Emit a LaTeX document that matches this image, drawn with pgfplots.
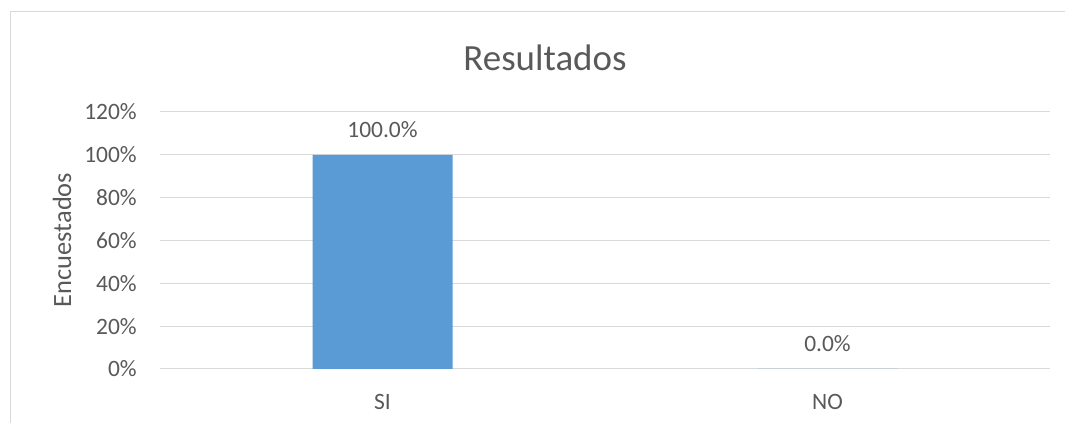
\documentclass[border=0pt]{standalone}
\usepackage{fontspec}
\setmainfont{Carlito}
\usepackage{pgfplots}
\pgfplotsset{compat=1.18}
\definecolor{barblue}{HTML}{5B9BD5}
\definecolor{gridgray}{HTML}{D9D9D9}
\definecolor{txtgray}{HTML}{595959}
\begin{document}
\begin{tikzpicture}
\useasboundingbox (0pt,0pt) rectangle (798.75pt,317.25pt);
\draw[gridgray, line width=0.75pt] (7.5pt,0pt) -- (7.5pt,308.25pt) -- (798.75pt,308.25pt);
\node[txtgray, font=\fontsize{27.7}{33}\selectfont, inner sep=0pt] at (408.75pt,273.75pt) {Resultados};
\begin{axis}[
  at={(120pt,40.5pt)}, anchor=south west,
  scale only axis, width=667.5pt, height=192.75pt,
  xmin=-0.5, xmax=1.5, ymin=0, ymax=120,
  xtick={0,1}, xticklabels={SI,NO},
  ytick={0,20,...,120},
  yticklabel={\pgfmathprintnumber{\tick}\%},
  /pgf/number format/assume math mode=true,
  ymajorgrids, grid style={gridgray, line width=0.75pt},
  axis line style={draw=none},
  major tick length=0pt,
  tick label style={font=\fontsize{17.6}{21}\selectfont, text=txtgray, inner sep=0pt},
  yticklabel style={anchor=east, xshift=-17.25pt},
  xticklabel style={anchor=base, yshift=-30.5pt},
  ylabel={Encuestados},
  every axis y label/.style={at={(axis description cs:-0.110,0.502)}, rotate=90, anchor=center, font=\fontsize{19.8}{24}\selectfont, text=txtgray},
  ybar, bar width=105pt,
  nodes near coords={\pgfmathprintnumber[fixed,fixed zerofill,precision=1]{\pgfplotspointmeta}\%},
  every node near coord/.append style={anchor=base, yshift=12.75pt, inner sep=0pt, font=\fontsize{17.6}{21}\selectfont, text=txtgray},
]
\addplot[fill=barblue, draw=none] coordinates {(0,100) (1,0)};
\end{axis}
\end{tikzpicture}
\end{document}
